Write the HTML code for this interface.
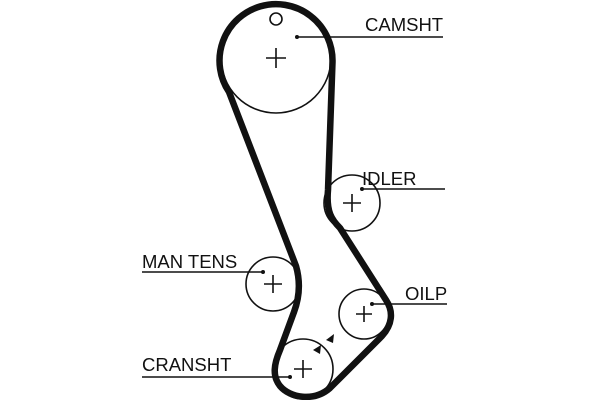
<!DOCTYPE html>
<html><head><style>
html,body{margin:0;padding:0;background:#fff;}
svg{display:block;}
text{font-family:"Liberation Sans",sans-serif;font-size:18.5px;fill:#111;}
</style></head><body>
<svg width="600" height="400" viewBox="0 0 600 400" xmlns="http://www.w3.org/2000/svg">
<rect width="600" height="400" fill="#fff"/>
<g fill="none" stroke="#111" stroke-width="1.6">
<circle cx="276" cy="58" r="55"/>
<circle cx="352" cy="203" r="28"/>
<circle cx="273" cy="284" r="27"/>
<circle cx="364" cy="314" r="25"/>
<circle cx="303" cy="369" r="30"/>
<circle cx="276" cy="19" r="6"/>
<path d="M266 58h20M276 48v20M343 203h18M352 194v18M264 284h18M273 275v18M356 314h16M364 306v16M294 369h18M303 360v18"/>
</g>
<path d="M229 92 A56.5 56.5 0 1 1 332.5 62 L328 190 C326 212 332 220 340 228 L386 300 C394 312 392 325 382 336 L330 388 C314 402 290 398 280 386 C272 376 274 364 280 350 L294 312 C300 296 300 280 296 266 L229 92 Z" fill="none" stroke="#111" stroke-width="6.5" stroke-linejoin="round"/>
<g stroke="#111" stroke-width="1.4">
<line x1="297" y1="37" x2="443" y2="37"/>
<line x1="362" y1="189" x2="445" y2="189"/>
<line x1="142" y1="272" x2="263" y2="272"/>
<line x1="372" y1="304" x2="447" y2="304"/>
<line x1="142" y1="377" x2="290" y2="377"/>
</g>
<g fill="#111">
<circle cx="297" cy="37" r="2"/><circle cx="362" cy="189" r="2"/><circle cx="263" cy="272" r="2"/><circle cx="372" cy="304" r="2"/><circle cx="290" cy="377" r="2"/>
<polygon points="326,340 334,334 333,343"/>
<polygon points="313,350 321,345 320,354"/>
</g>
<text x="365" y="31">CAMSHT</text>
<text x="362" y="185">IDLER</text>
<text x="142" y="268">MAN TENS</text>
<text x="405" y="300">OILP</text>
<text x="142" y="371">CRANSHT</text>
</svg>
</body></html>
